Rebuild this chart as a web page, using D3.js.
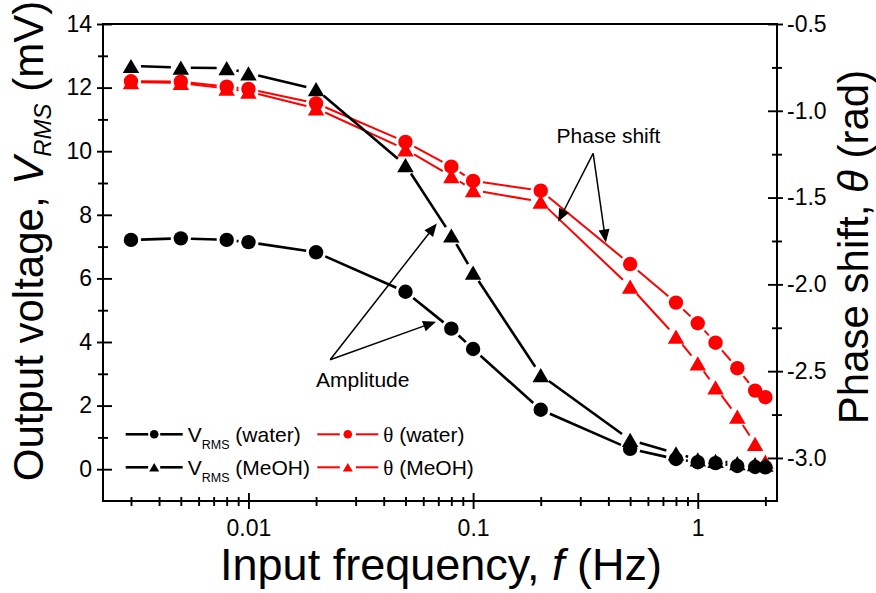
<!DOCTYPE html>
<html>
<head>
<meta charset="utf-8">
<script src="https://cdn.jsdelivr.net/npm/d3@7"></script>
<style>
  html, body { margin: 0; padding: 0; background: #fff; }
  svg { display: block; font-family: "Liberation Sans", Arial, sans-serif; }
</style>
</head>
<body>
<svg id="chart" width="876" height="593"></svg>
<script>
// ---------------- data ----------------
const freq = [0.003, 0.005, 0.008, 0.01, 0.02, 0.05, 0.08, 0.1, 0.2, 0.5, 0.8, 1, 1.2, 1.5, 1.8, 2];
const vrmsWater = [7.21, 7.26, 7.21, 7.14, 6.82, 5.58, 4.42, 3.78, 1.87, 0.64, 0.32, 0.22, 0.19, 0.10, 0.07, 0.06];
const vrmsMeOH = [12.68, 12.63, 12.61, 12.45, 11.95, 9.56, 7.35, 6.18, 2.96, 0.92, 0.50, 0.31, 0.26, 0.19, 0.16, 0.14];
const thetaWater = [-0.83, -0.832, -0.861, -0.874, -0.957, -1.179, -1.322, -1.404, -1.46, -1.883, -2.105, -2.224, -2.336, -2.483, -2.612, -2.65];
const thetaMeOH = [-0.835, -0.84, -0.872, -0.89, -0.986, -1.222, -1.376, -1.457, -1.524, -2.013, -2.301, -2.455, -2.593, -2.762, -2.919, -3.021];

const xMajor = [0.01, 0.1, 1];
const xMajorLabels = ["0.01", "0.1", "1"];
const xMinor = [0.003, 0.004, 0.005, 0.006, 0.007, 0.008, 0.009,
                0.02, 0.03, 0.04, 0.05, 0.06, 0.07, 0.08, 0.09,
                0.2, 0.3, 0.4, 0.5, 0.6, 0.7, 0.8, 0.9, 2];
const leftMajor = [0, 2, 4, 6, 8, 10, 12, 14];
const leftMinor = [1, 3, 5, 7, 9, 11, 13];
const rightMajor = [-3.0, -2.5, -2.0, -1.5, -1.0, -0.5];
const rightMinor = [-2.75, -2.25, -1.75, -1.25, -0.75];

const legendLabels = ["(water)", "(MeOH)", "(water)", "(MeOH)"];

// annotations in data units (frequency, left-axis value)
const ampText = [0.02, 2.6];
const ampFrom = [0.0231, 3.44];
const ampTips = [[0.0689, 7.73], [0.0684, 4.64]];
const phaseText = [0.2352, 10.25];
const phaseFrom = [0.3423, 9.93];
const phaseTips = [[0.2392, 7.78], [0.39, 7.13]];

// ---------------- layout ----------------
const W = 876, H = 593;
const m = { left: 103, right: 99, top: 24, bottom: 92 };
const iw = W - m.left - m.right, ih = H - m.top - m.bottom;

const svg = d3.select("#chart");
const g = svg.append("g").attr("transform", `translate(${m.left},${m.top})`);

const x = d3.scaleLog().domain([0.002252, 2.253]).range([0, iw]);
const yL = d3.scaleLinear().domain([-1, 14]).range([ih, 0]);
const yR = d3.scaleLinear().domain([-3.248, -0.5]).range([ih, 0]);

const tickFont = 23;

function styleAxis(sel) {
  sel.select(".domain").remove();
  sel.selectAll("line").attr("stroke", "#000").attr("stroke-width", 1.9);
  sel.selectAll("text").attr("font-size", tickFont).attr("fill", "#000")
     .attr("font-family", "Liberation Sans, Arial, sans-serif");
}

// bottom axis
g.append("g").attr("transform", `translate(0,${ih})`)
  .call(d3.axisBottom(x).tickValues(xMajor).tickSize(8).tickPadding(11)
        .tickFormat((d, i) => xMajorLabels[i])).call(styleAxis);
g.append("g").attr("transform", `translate(0,${ih})`)
  .call(d3.axisBottom(x).tickValues(xMajor).tickSize(-8).tickFormat("")).call(styleAxis);
g.append("g").attr("transform", `translate(0,${ih})`)
  .call(d3.axisBottom(x).tickValues(xMinor).tickSize(5).tickFormat("")).call(styleAxis);
g.append("g").attr("transform", `translate(0,${ih})`)
  .call(d3.axisBottom(x).tickValues(xMinor).tickSize(-4).tickFormat("")).call(styleAxis);

// left axis
g.append("g")
  .call(d3.axisLeft(yL).tickValues(leftMajor).tickSize(6).tickPadding(5)
        .tickFormat(d3.format("d"))).call(styleAxis);
g.append("g")
  .call(d3.axisLeft(yL).tickValues(leftMajor).tickSize(-9).tickFormat("")).call(styleAxis);
g.append("g")
  .call(d3.axisLeft(yL).tickValues(leftMinor).tickSize(5).tickFormat("")).call(styleAxis);
g.append("g")
  .call(d3.axisLeft(yL).tickValues(leftMinor).tickSize(-5).tickFormat("")).call(styleAxis);

// right axis
g.append("g").attr("transform", `translate(${iw},0)`)
  .call(d3.axisRight(yR).tickValues(rightMajor).tickSize(6).tickPadding(4)
        .tickFormat(d => d3.format(".1f")(d).replace("−", "-"))).call(styleAxis);
g.append("g").attr("transform", `translate(${iw},0)`)
  .call(d3.axisRight(yR).tickValues(rightMajor).tickSize(-9).tickFormat("")).call(styleAxis);
g.append("g").attr("transform", `translate(${iw},0)`)
  .call(d3.axisRight(yR).tickValues(rightMinor).tickSize(5).tickFormat("")).call(styleAxis);
g.append("g").attr("transform", `translate(${iw},0)`)
  .call(d3.axisRight(yR).tickValues(rightMinor).tickSize(-5).tickFormat("")).call(styleAxis);

// frame
g.append("rect").attr("x", 0).attr("y", 0).attr("width", iw).attr("height", ih)
  .attr("fill", "none").attr("stroke", "#000").attr("stroke-width", 2);

// ---------------- marker shapes ----------------
const triBox = {
  draw(ctx, size) {
    const s = Math.sqrt(size);       // side length
    const h = s * 0.86;
    ctx.moveTo(0, -h / 2);
    ctx.lineTo(s / 2, h / 2);
    ctx.lineTo(-s / 2, h / 2);
    ctx.closePath();
  }
};

// ---------------- series ----------------
const series = [
  { vals: thetaWater, y: yR, color: "#ff0000", shape: "circle", lw: 2 },
  { vals: thetaMeOH, y: yR, color: "#ff0000", shape: "tri", lw: 2 },
  { vals: vrmsWater, y: yL, color: "#000", shape: "circle", lw: 2.6 },
  { vals: vrmsMeOH, y: yL, color: "#000", shape: "tri", lw: 2.6 }
];

const gap = 10;
series.forEach(s => {
  const pts = freq.map((f, i) => [x(f), s.y(s.vals[i])]);
  const segs = [];
  for (let i = 0; i < pts.length - 1; i++) {
    const [x0, y0] = pts[i], [x1, y1] = pts[i + 1];
    const dx = x1 - x0, dy = y1 - y0, L = Math.hypot(dx, dy);
    if (L > 2 * gap + 0.5) {
      const ux = dx / L, uy = dy / L;
      segs.push([x0 + ux * gap, y0 + uy * gap, x1 - ux * gap, y1 - uy * gap]);
    }
  }
  g.append("g").selectAll("line").data(segs).join("line")
    .attr("x1", d => d[0]).attr("y1", d => d[1]).attr("x2", d => d[2]).attr("y2", d => d[3])
    .attr("stroke", s.color).attr("stroke-width", s.lw);
  const gm = g.append("g");
  if (s.shape === "circle") {
    gm.selectAll("circle").data(pts).join("circle")
      .attr("cx", d => d[0]).attr("cy", d => d[1]).attr("r", 7.2).attr("fill", s.color);
  } else {
    gm.selectAll("path").data(pts).join("path")
      .attr("transform", d => `translate(${d[0]},${d[1]})`)
      .attr("d", d3.symbol().type(triBox).size(16.5 * 16.5)).attr("fill", s.color);
  }
});

// ---------------- annotations ----------------
function arrow(from, to) {
  const x0 = x(from[0]), y0 = yL(from[1]), x1 = x(to[0]), y1 = yL(to[1]);
  const dx = x1 - x0, dy = y1 - y0, L = Math.hypot(dx, dy);
  const ux = dx / L, uy = dy / L;
  const hl = 13, hw = 5.5;
  const bx = x1 - ux * hl, by = y1 - uy * hl;
  g.append("line").attr("x1", x0).attr("y1", y0).attr("x2", bx + ux * 2).attr("y2", by + uy * 2)
    .attr("stroke", "#000").attr("stroke-width", 1.5);
  g.append("path")
    .attr("d", `M${x1},${y1}L${bx - uy * hw},${by + ux * hw}L${bx + uy * hw},${by - ux * hw}Z`)
    .attr("fill", "#000");
}
ampTips.forEach(t => arrow(ampFrom, t));
phaseTips.forEach(t => arrow(phaseFrom, t));
g.append("text").attr("x", x(ampText[0])).attr("y", yL(ampText[1]))
  .attr("font-size", 21).text("Amplitude");
g.append("text").attr("x", x(phaseText[0])).attr("y", yL(phaseText[1]))
  .attr("font-size", 21).text("Phase shift");

// ---------------- legend ----------------
const legend = svg.append("g");
const legItems = [
  { col: 0, row: 0, color: "#000", shape: "circle", lw: 2.6, label: legendLabels[0] },
  { col: 0, row: 1, color: "#000", shape: "tri", lw: 2.6, label: legendLabels[1] },
  { col: 1, row: 0, color: "#ff0000", shape: "circle", lw: 2, label: legendLabels[2] },
  { col: 1, row: 1, color: "#ff0000", shape: "tri", lw: 2, label: legendLabels[3] }
];
const colX = [125.7, 317.3];
const rowY = [434.3, 467.3];
legItems.forEach(it => {
  const x0 = colX[it.col], yy = rowY[it.row];
  const w = it.col === 0 ? 57 : 61;
  const mx = x0 + w / 2;
  const gp = it.col === 0 ? 6 : 8;
  legend.append("line").attr("x1", x0).attr("x2", mx - gp).attr("y1", yy).attr("y2", yy)
    .attr("stroke", it.color).attr("stroke-width", it.lw);
  legend.append("line").attr("x1", mx + gp).attr("x2", x0 + w).attr("y1", yy).attr("y2", yy)
    .attr("stroke", it.color).attr("stroke-width", it.lw);
  if (it.shape === "circle") {
    legend.append("circle").attr("cx", mx).attr("cy", yy).attr("r", 4.3).attr("fill", it.color);
  } else {
    legend.append("path").attr("transform", `translate(${mx},${yy})`)
      .attr("d", d3.symbol().type(triBox).size(10 * 10)).attr("fill", it.color);
  }
  const t = legend.append("text").attr("x", x0 + w + 5).attr("y", yy + 8).attr("font-size", 21);
  if (it.col === 0) {
    t.append("tspan").text("V");
    t.append("tspan").attr("font-size", 12.5).attr("dy", 7).text("RMS");
    t.append("tspan").attr("dy", -7).text(" " + it.label);
  } else {
    t.append("tspan").attr("font-family", "Liberation Serif, serif").text("θ");
    t.append("tspan").text(" " + it.label);
  }
});

// ---------------- axis titles ----------------
const xt = svg.append("text").attr("x", 441).attr("y", 580).attr("text-anchor", "middle")
  .attr("font-size", 45);
xt.append("tspan").text("Input frequency, ");
xt.append("tspan").attr("font-style", "italic").text("f");
xt.append("tspan").text(" (Hz)");

const yt = svg.append("text").attr("transform", "translate(43,241) rotate(-90)")
  .attr("text-anchor", "middle").attr("font-size", 42);
yt.append("tspan").text("Output voltage, ");
yt.append("tspan").attr("font-style", "italic").text("V");
yt.append("tspan").attr("font-style", "italic").attr("font-size", 24).attr("dy", 8).text("RMS");
yt.append("tspan").attr("dy", -8).text(" (mV)");

const yt2 = svg.append("text").attr("transform", "translate(868,247) rotate(-90)")
  .attr("text-anchor", "middle").attr("font-size", 42);
yt2.append("tspan").text("Phase shift, ");
yt2.append("tspan").attr("font-style", "italic").text("θ");
yt2.append("tspan").text(" (rad)");
</script>
</body>
</html>
